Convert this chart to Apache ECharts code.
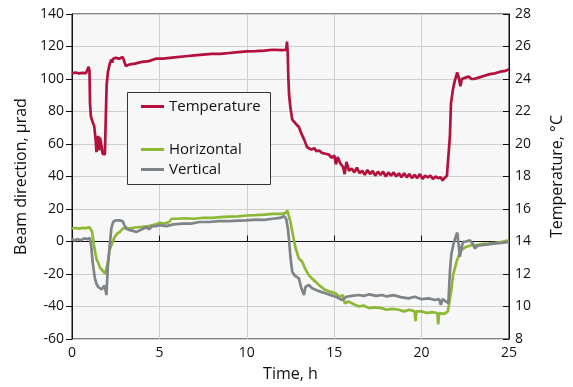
<!DOCTYPE html>
<html>
<head>
<meta charset="utf-8">
<script src="https://cdn.jsdelivr.net/npm/echarts@6/dist/echarts.min.js"></script>
<style>
  html, body { margin: 0; padding: 0; background: #fff; }
  #chart { width: 573px; height: 387px; }
</style>
</head>
<body>
<div id="chart"></div>
<script>
// hours + temperature (°C, right axis)
const tempHours = [0, 0.2, 0.4, 0.6, 0.8, 0.9, 0.95, 1.0, 1.03, 1.08, 1.2, 1.27, 1.35, 1.4, 1.47, 1.5, 1.55, 1.6, 1.65, 1.7, 1.75, 1.8, 1.88, 1.93, 1.98, 2.05, 2.15, 2.25, 2.3, 2.35, 2.5, 2.7, 2.9, 3.0, 3.08, 3.3, 3.6, 4.0, 4.4, 4.8, 5.2, 5.6, 6.0, 6.5, 7.0, 7.5, 8.0, 8.5, 9.0, 9.5, 10.0, 10.5, 11.0, 11.5, 12.0, 12.25, 12.3, 12.34, 12.38, 12.42, 12.5, 12.6, 12.8, 12.98, 13.1, 13.27, 13.35, 13.45, 13.55, 13.7, 13.85, 14.0, 14.15, 14.3, 14.5, 14.7, 14.85, 15.0, 15.1, 15.2, 15.35, 15.5, 15.6, 15.7, 15.85, 16.0, 16.15, 16.3, 16.45, 16.6, 16.75, 16.9, 17.05, 17.2, 17.35, 17.5, 17.65, 17.8, 17.95, 18.1, 18.25, 18.4, 18.55, 18.7, 18.85, 19.0, 19.15, 19.3, 19.45, 19.6, 19.75, 19.9, 20.05, 20.2, 20.35, 20.5, 20.65, 20.8, 20.95, 21.1, 21.2, 21.3, 21.45, 21.55, 21.62, 21.68, 21.8, 21.9, 22.04, 22.12, 22.22, 22.3, 22.4, 22.55, 22.7, 22.85, 23.0, 23.3, 23.6, 23.9, 24.2, 24.5, 24.8, 25.0];
const tempValues = [24.35, 24.4, 24.35, 24.38, 24.36, 24.4, 24.75, 24.5, 22.5, 21.7, 21.3, 21.1, 20.3, 19.5, 20.2, 20.5, 19.6, 20.4, 20.5, 19.8, 19.4, 19.5, 19.35, 21.5, 23.6, 24.4, 24.9, 25.2, 25.0, 25.25, 25.3, 25.25, 25.35, 25.3, 24.8, 24.9, 24.95, 25.05, 25.1, 25.25, 25.25, 25.3, 25.35, 25.4, 25.45, 25.5, 25.55, 25.55, 25.6, 25.65, 25.7, 25.72, 25.75, 25.8, 25.78, 25.8, 26.3, 25.6, 24.0, 23.0, 22.2, 21.5, 21.25, 21.05, 20.7, 20.3, 20.4, 19.8, 19.9, 19.65, 19.75, 19.55, 19.6, 19.45, 19.4, 19.35, 19.15, 19.3, 18.75, 19.2, 18.8, 18.6, 18.15, 18.9, 18.35, 18.5, 18.25, 18.55, 18.2, 18.35, 18.1, 18.4, 18.15, 18.35, 18.05, 18.3, 18.1, 18.3, 18.0, 18.25, 18.05, 18.25, 18.0, 18.2, 17.95, 18.2, 17.95, 18.15, 17.9, 18.1, 17.9, 18.15, 17.85, 18.05, 17.95, 18.05, 17.85, 18.0, 17.9, 17.95, 17.75, 17.9, 18.05, 18.1, 20.5, 22.5, 23.4, 23.9, 24.4, 24.1, 23.55, 24.0, 24.05, 24.1, 24.15, 24.0, 24.0, 24.1, 24.2, 24.3, 24.35, 24.45, 24.5, 24.6];

// hours + horizontal beam direction (µrad, left axis)
const horizHours = [0, 0.2, 0.4, 0.6, 0.8, 1.0, 1.1, 1.15, 1.25, 1.35, 1.42, 1.5, 1.6, 1.7, 1.8, 1.9, 1.97, 2.05, 2.15, 2.3, 2.45, 2.6, 2.75, 2.9, 3.1, 3.3, 3.6, 4.0, 4.4, 4.8, 5.0, 5.3, 5.55, 5.7, 6.0, 6.5, 7.0, 7.5, 8.0, 8.5, 9.0, 9.5, 10.0, 10.5, 11.0, 11.5, 12.0, 12.2, 12.32, 12.4, 12.5, 12.6, 12.79, 12.98, 13.17, 13.35, 13.55, 13.75, 13.93, 14.2, 14.5, 14.8, 15.07, 15.3, 15.5, 15.6, 15.83, 16.1, 16.4, 16.7, 17.0, 17.3, 17.7, 18.0, 18.3, 18.7, 19.0, 19.3, 19.6, 19.65, 19.7, 20.0, 20.3, 20.6, 20.9, 20.95, 21.0, 21.3, 21.5, 21.58, 21.7, 21.8, 22.0, 22.15, 22.28, 22.5, 22.85, 23.2, 23.5, 23.8, 24.2, 24.6, 25.0];
const horizValues = [8.0, 8.3, 7.9, 8.4, 8.2, 8.8, 10.0, 6.0, -2, -8, -11.5, -13, -16, -17, -18.5, -20, -21, -13, -5, -1, 3, 5, 6, 8, 8.5, 7.9, 8.6, 9, 9.5, 10.5, 11.5, 11, 12, 14, 14, 14.3, 14, 14.6, 14.5, 15, 15.3, 15.5, 16, 16.2, 16.5, 17, 17, 17.5, 19, 18, 12, 6, -4, -10.5, -12.4, -17, -20.7, -23, -24.7, -27.5, -29.9, -31, -31.9, -34, -33, -38, -37, -38.5, -40, -39.5, -41, -40.5, -41, -42, -41.5, -42, -43, -42, -43, -49, -43, -43, -44, -43.5, -44, -51, -44, -44.5, -43, -43, -30, -20.7, -12.4, -8, -5.3, -3.5, -2.3, -2, -1.5, -1.3, -0.8, -0.2, 0.7];

// hours + vertical beam direction (µrad, left axis)
const vertHours = [0, 0.15, 0.3, 0.5, 0.7, 0.9, 1.02, 1.1, 1.18, 1.25, 1.31, 1.4, 1.5, 1.6, 1.7, 1.78, 1.85, 1.92, 1.97, 2.05, 2.16, 2.25, 2.35, 2.5, 2.73, 2.9, 3.0, 3.1, 3.3, 3.5, 3.68, 3.9, 4.1, 4.25, 4.4, 4.6, 4.8, 5.0, 5.4, 5.8, 6.34, 6.8, 7.3, 7.86, 8.4, 9.0, 9.5, 9.95, 10.5, 11.0, 11.46, 11.9, 12.13, 12.25, 12.35, 12.41, 12.5, 12.6, 12.75, 12.98, 13.1, 13.27, 13.36, 13.55, 13.74, 14.0, 14.25, 14.5, 14.8, 15.1, 15.45, 15.7, 16.0, 16.4, 16.7, 17.0, 17.4, 17.73, 18.0, 18.4, 18.8, 19.25, 19.6, 20.0, 20.4, 20.77, 21.0, 21.1, 21.2, 21.53, 21.62, 21.7, 21.81, 21.95, 22.04, 22.12, 22.19, 22.3, 22.38, 22.55, 22.76, 22.9, 23.05, 23.2, 23.42, 23.8, 24.2, 24.6, 24.94, 25.0];
const vertValues = [1.8, 0.5, 1.5, 0.8, 1.9, 1.5, 2.2, -3, -12.5, -18, -22.7, -26, -28, -27, -29.5, -28.8, -27, -30, -33, -15, -2.3, 8, 12, 13, 13, 12.5, 10, 7.9, 7, 6.5, 5.9, 7, 8, 8.9, 7.5, 9.5, 9.5, 10, 9.5, 10.5, 11, 11, 12, 12, 12.5, 12.5, 12.8, 13, 13.5, 13.3, 14, 14.5, 15.6, 14, 8, 1.8, -10, -18.6, -21, -22.7, -28, -32.9, -27.8, -26.8, -28.8, -30, -31, -31.9, -33, -34, -36, -34, -33.5, -32.9, -33.5, -32.5, -33.5, -32.9, -33.8, -33, -34.2, -35, -34, -35.5, -35, -36, -35.5, -39, -35.5, -38, -18.6, -8, -2.3, 3, 5.5, -2, -9.4, -3, -0.2, 0, 0.7, -1, -4.3, -2.5, -2.3, -1.8, -1.2, -0.8, -0.2, 0];

const xTicks = [0, 5, 10, 15, 20, 25];

const font = "'Open Sans', 'Noto Sans', sans-serif";
const pairs = (xs, ys) => xs.map((x, i) => [x, ys[i]]);

const chart = echarts.init(document.getElementById("chart"));

const option = {
  animation: false,
  textStyle: { fontFamily: font, color: "#111" },
  grid: {
    left: 72, right: 62, top: 14, bottom: 46,
    show: true,
    backgroundColor: "#f7f7f7",
    borderColor: "#111",
    borderWidth: 1,
  },
  graphic: [
    {
      type: "rect",
      z: 3,
      shape: { x: 127.5, y: 92.5, width: 143, height: 92 },
      style: { fill: "#f7f7f7", stroke: "#333", lineWidth: 1 },
    },
  ],
  legend: [
    {
      data: ["Temperature"],
      left: 136, top: 94,
      selectedMode: false,
      icon: "rect", itemWidth: 23, itemHeight: 3,
      textStyle: { fontFamily: font, fontSize: 15, color: "#111" },
    },
    {
      data: ["Horizontal", "Vertical"],
      orient: "vertical",
      left: 136, top: 136,
      itemGap: 3,
      selectedMode: false,
      icon: "rect", itemWidth: 23, itemHeight: 3,
      textStyle: { fontFamily: font, fontSize: 15, color: "#111", lineHeight: 17 },
    },
  ],
  xAxis: {
    type: "value",
    min: xTicks[0], max: xTicks[xTicks.length - 1], interval: 5,
    name: "Time, h",
    nameLocation: "middle",
    nameGap: 27,
    nameTextStyle: { fontSize: 16, color: "#111" },
    axisLine: { lineStyle: { color: "#111" } },
    axisTick: { inside: true, length: 6, lineStyle: { color: "#111" } },
    axisLabel: { fontSize: 14, color: "#111", margin: 7 },
    splitLine: { show: true, lineStyle: { color: "#cfcfcf" } },
  },
  yAxis: [
    {
      type: "value",
      min: -60, max: 140, interval: 20,
      name: "Beam direction, µrad",
      nameLocation: "middle",
      nameGap: 42,
      nameTextStyle: { fontSize: 16, color: "#111" },
      axisLine: { show: true, lineStyle: { color: "#111" } },
      axisTick: { show: true, length: 6, lineStyle: { color: "#111" } },
      axisLabel: { fontSize: 14, color: "#111", margin: 8 },
      splitLine: { show: true, lineStyle: { color: "#cfcfcf" } },
    },
    {
      type: "value",
      position: "right",
      min: 8, max: 28, interval: 2,
      name: "Temperature, °C",
      nameLocation: "middle",
      nameGap: 40,
      nameTextStyle: { fontSize: 16, color: "#111" },
      axisLine: { show: true, lineStyle: { color: "#111" } },
      axisTick: { show: true, inside: true, length: 6, lineStyle: { color: "#111" } },
      axisLabel: { fontSize: 14, color: "#111", margin: 6 },
      splitLine: { show: false },
    },
  ],
  series: [
    {
      name: "Horizontal",
      type: "line",
      data: pairs(horizHours, horizValues),
      symbol: "none",
      lineStyle: { width: 2.7, color: "#8cb935" },
      itemStyle: { color: "#8cb935" },
    },
    {
      name: "Vertical",
      type: "line",
      data: pairs(vertHours, vertValues),
      symbol: "none",
      lineStyle: { width: 2.7, color: "#7e8488" },
      itemStyle: { color: "#7e8488" },
    },
    {
      name: "Temperature",
      type: "line",
      yAxisIndex: 1,
      data: pairs(tempHours, tempValues),
      symbol: "none",
      lineStyle: { width: 2.7, color: "#b3103c" },
      itemStyle: { color: "#b3103c" },
    },
  ],
};

chart.setOption(option);
</script>
</body>
</html>
